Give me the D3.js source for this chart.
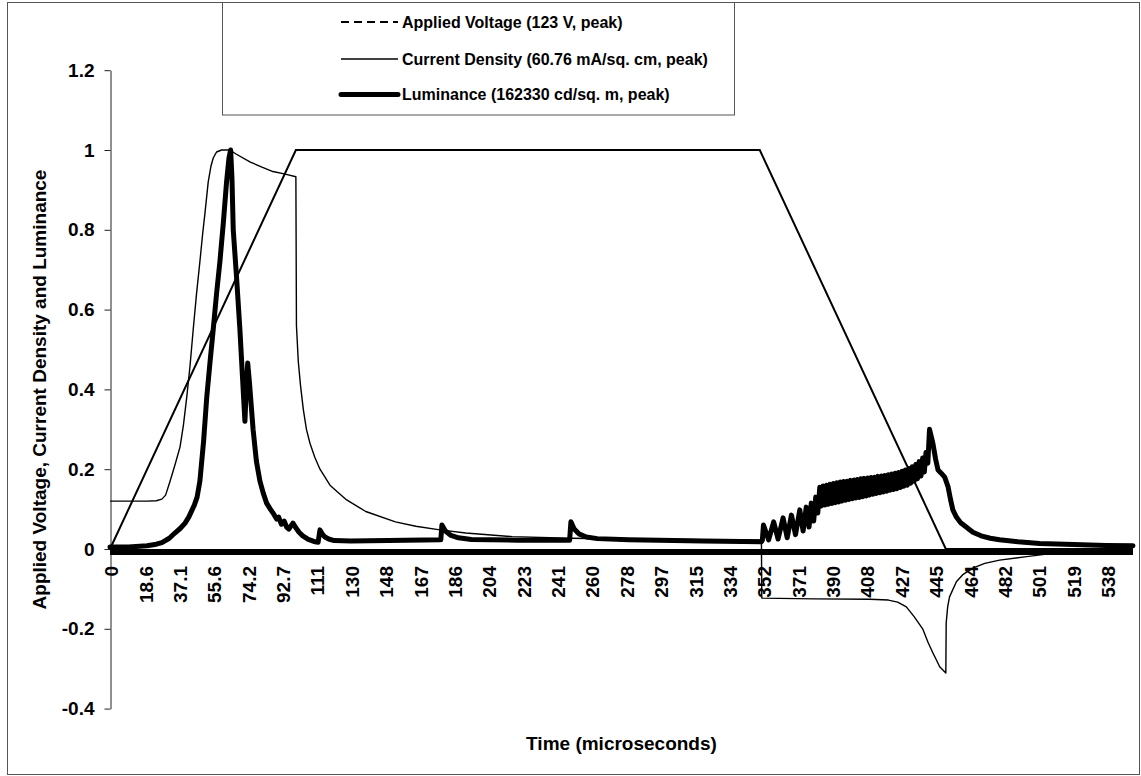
<!DOCTYPE html>
<html><head><meta charset="utf-8">
<script src="https://cdn.jsdelivr.net/npm/d3@7"></script>
<style>
body{margin:0;background:#fff}
text{font-family:Arial,"Liberation Sans",sans-serif;font-weight:bold;fill:#000}
</style>
</head><body>
<svg id="chart" width="1141" height="776"></svg>
<script>
// ---------- data ----------
const seriesNames = ["Applied Voltage (123 V, peak)", "Current Density (60.76 mA/sq. cm, peak)", "Luminance (162330 cd/sq. m, peak)"];
const xTitle = "Time (microseconds)";
const yTitle = "Applied Voltage, Current Density and Luminance";
const yTickValues = [-0.4, -0.2, 0, 0.2, 0.4, 0.6, 0.8, 1, 1.2];
const yTickLabels = ["-0.4", "-0.2", "0", "0.2", "0.4", "0.6", "0.8", "1", "1.2"];
const xTickValues = [0, 18.55, 37.1, 55.65, 74.2, 92.75, 111.3, 129.85, 148.4, 166.95, 185.5, 204.05, 222.6, 241.15, 259.7, 278.25, 296.8, 315.35, 333.9, 352.45, 371, 389.55, 408.1, 426.65, 445.2, 463.75, 482.3, 500.85, 519.4, 537.95];
const xTickLabels = ["0", "18.6", "37.1", "55.6", "74.2", "92.7", "111", "130", "148", "167", "186", "204", "223", "241", "260", "278", "297", "315", "334", "352", "371", "390", "408", "427", "445", "464", "482", "501", "519", "538"];
const timeDomain = [0, 552];

// [time (us), normalised value]
const voltage = [[0, 0], [100.3, 1], [350.6, 1], [451, 0], [552, 0]];

const current = [[0,0.12],[20,0.12],[25,0.121],[28,0.125],[30,0.135],[32.4,0.17],[35,0.21],[37.8,0.256],[39.6,0.31],[41.4,0.38],[43.2,0.46],[44.9,0.55],[46.7,0.64],[48.5,0.72],[50,0.79],[51.2,0.84],[53,0.92],[54.5,0.96],[55.7,0.98],[57.5,0.995],[60.2,1.0],[64.7,1.0],[68,0.99],[75.5,0.97],[82,0.957],[87.9,0.946],[94,0.94],[100.3,0.933],[100.6,0.56],[101.6,0.47],[102.8,0.41],[104.3,0.35],[106,0.3],[107.9,0.265],[110.5,0.23],[113.3,0.2],[118.7,0.16],[124,0.138],[127.7,0.123],[138,0.094],[154,0.068],[165,0.057],[178,0.048],[192,0.04],[217,0.031],[248,0.027],[280,0.025],[320,0.023],[351.5,0.022],[351.7,-0.123],[380,-0.125],[410,-0.126],[420,-0.128],[425,-0.133],[429.7,-0.145],[434,-0.17],[438.5,-0.2],[441.5,-0.235],[444,-0.26],[447.7,-0.295],[451,-0.311],[451.2,-0.185],[452,-0.145],[453,-0.12],[456.7,-0.082],[460,-0.065],[465.5,-0.048],[472,-0.036],[480,-0.028],[494.6,-0.019],[508.6,-0.011],[530,-0.005],[552,-0.003]];

const luminance = [[0,0.005],[10,0.005],[20,0.008],[25,0.012],[28,0.016],[32,0.027],[35,0.04],[38,0.052],[40.5,0.065],[42.5,0.08],[44,0.095],[45.5,0.11],[47,0.13],[48.5,0.17],[50.5,0.27],[52.2,0.38],[54,0.47],[55.7,0.55],[57.5,0.64],[59.3,0.72],[61.2,0.82],[62.9,0.92],[64.2,0.98],[65.1,1.0],[65.8,0.93],[66.5,0.8],[68.3,0.68],[70.1,0.55],[71.5,0.43],[72.8,0.32],[73.5,0.4],[74.3,0.466],[75.2,0.42],[77.2,0.3],[79,0.22],[80.9,0.17],[82.7,0.14],[84.5,0.115],[86.5,0.1],[88,0.09],[89.9,0.075],[91,0.08],[92.5,0.062],[94,0.07],[95.3,0.055],[96.5,0.05],[98.7,0.065],[100,0.055],[102,0.042],[104,0.033],[107,0.024],[110,0.019],[112.3,0.017],[113.3,0.048],[114.5,0.038],[116,0.03],[118,0.025],[121,0.021],[130,0.02],[150,0.021],[178.5,0.023],[179.1,0.06],[181,0.045],[184,0.034],[188,0.028],[195,0.024],[220,0.022],[248,0.022],[248.7,0.068],[250.5,0.05],[253,0.038],[257,0.03],[263,0.026],[280,0.023],[320,0.02],[351.5,0.018],
[352.0,0.022],[352.6,0.06],[355.4,0.023],[358.1,0.068],[360.5,0.025],[363.2,0.078],[365.4,0.028],[367.7,0.085],[369.9,0.036],[372.2,0.098],[374.0,0.045],[375.7,0.105],[377.2,0.055],[378.4,0.115],[379.7,0.07],[380.8,0.13],[381.9,0.09],
[383.0,0.155],[383.9,0.108],[384.8,0.158],[385.8,0.110],[386.7,0.160],[387.6,0.112],[388.5,0.162],[389.5,0.114],[390.4,0.164],[391.3,0.116],[392.2,0.166],[393.2,0.118],[394.1,0.168],[395.0,0.120],[395.9,0.169],[396.9,0.122],[397.8,0.170],[398.7,0.124],[399.6,0.172],[400.6,0.126],[401.5,0.173],[402.4,0.128],[403.3,0.174],[404.3,0.129],[405.2,0.176],[406.1,0.131],[407.0,0.177],[408.0,0.133],[408.9,0.178],[409.8,0.135],[410.7,0.179],[411.7,0.137],[412.6,0.180],[413.5,0.139],[414.4,0.182],[415.4,0.141],[416.3,0.183],[417.2,0.143],[418.1,0.184],[419.1,0.145],[420.0,0.186],[420.9,0.147],[421.8,0.188],[422.8,0.149],[423.7,0.190],[424.6,0.151],[425.5,0.192],[426.5,0.154],[427.4,0.195],[428.3,0.157],[429.2,0.198],[430.2,0.160],[431.1,0.202],[432.0,0.165],[432.9,0.206],[433.9,0.170],[434.8,0.212],[435.7,0.176],[436.6,0.219],[437.6,0.183],[438.5,0.228],[439.4,0.193],[440.3,0.242],[441.3,0.215],[442.2,0.300],
[443,0.285],[444,0.265],[445.5,0.225],[446.8,0.198],[448.5,0.19],[450.4,0.18],[452.2,0.156],[453.5,0.125],[454.8,0.098],[456.7,0.08],[459,0.066],[462,0.055],[465.6,0.042],[470,0.033],[475,0.027],[480,0.023],[490,0.018],[501.6,0.014],[520,0.011],[537.6,0.009],[552,0.008]];

// ---------- drawing ----------
const svg = d3.select("#chart");
svg.append("rect").attr("x",0).attr("y",0).attr("width",1141).attr("height",776).attr("fill","#fff");
// outer chart border
svg.append("rect").attr("x",7.5).attr("y",2.5).attr("width",1132).attr("height",772)
  .attr("fill","none").attr("stroke","#555").attr("stroke-width",1);

const x = d3.scaleLinear().domain(timeDomain).range([110, 1133]);
const y = d3.scaleLinear().domain([-0.4, 1.2]).range([708.6, 70.2]);

// y axis
const yAxis = d3.axisLeft(y).tickValues(yTickValues)
  .tickFormat((d, i) => yTickLabels[i]).tickSize(6).tickSizeOuter(0).tickPadding(10);
const gy = svg.append("g").attr("transform", "translate(110.5,0)").call(yAxis);
gy.selectAll("path,line").attr("stroke", "#222");
gy.selectAll("text").style("font-size", "19px").style("font-family", "Arial, 'Liberation Sans', sans-serif").style("font-weight","bold").attr("fill","#000");

// thick category axis line at zero
svg.append("line").attr("x1", x(timeDomain[0])).attr("x2", x(timeDomain[1]))
  .attr("y1", y(0) + 3).attr("y2", y(0) + 3).attr("stroke", "#000").attr("stroke-width", 6);

// x tick labels (rotated)
svg.append("g").selectAll("text").data(xTickValues).join("text")
  .attr("transform", d => `translate(${x(d) + 1.5},566) rotate(-90)`)
  .attr("text-anchor", "end").attr("dy", "0.35em")
  .style("font-size", "19px").text((d, i) => xTickLabels[i]);

const line = d3.line().x(d => x(d[0])).y(d => y(d[1]));
svg.append("path").datum(voltage).attr("d", line).attr("fill","none").attr("stroke","#000").attr("stroke-width",2);
svg.append("path").datum(current).attr("d", line).attr("fill","none").attr("stroke","#000").attr("stroke-width",1.4).attr("stroke-linejoin","round");
svg.append("path").datum(luminance).attr("d", line).attr("fill","none").attr("stroke","#000").attr("stroke-width",5).attr("stroke-linejoin","round").attr("stroke-linecap","round");

// axis titles
svg.append("text").attr("transform","translate(39,389.5) rotate(-90)").attr("text-anchor","middle").attr("dy","0.35em")
  .style("font-size","19px").text(yTitle);
svg.append("text").attr("x",621.5).attr("y",750).attr("text-anchor","middle")
  .style("font-size","19px").text(xTitle);

// legend
const lg = svg.append("g");
lg.append("rect").attr("x",222.5).attr("y",2.5).attr("width",512).attr("height",112.5)
  .attr("fill","#fff").attr("stroke","#555").attr("stroke-width",1);
const legendY = [22, 59, 94.5];
const legendStyles = [{w:2, dash:"8,5", cap:"butt"}, {w:1.4, dash:null, cap:"butt"}, {w:5, dash:null, cap:"round"}];
seriesNames.forEach((name, i) => {
  const s = legendStyles[i];
  lg.append("line").attr("x1",341).attr("x2",398).attr("y1",legendY[i]).attr("y2",legendY[i])
    .attr("stroke","#000").attr("stroke-width",s.w).attr("stroke-dasharray",s.dash).attr("stroke-linecap",s.cap);
  lg.append("text").attr("x",402).attr("y",legendY[i]).attr("dy","0.35em").style("font-size","16px").text(name);
});
</script>
</body></html>
